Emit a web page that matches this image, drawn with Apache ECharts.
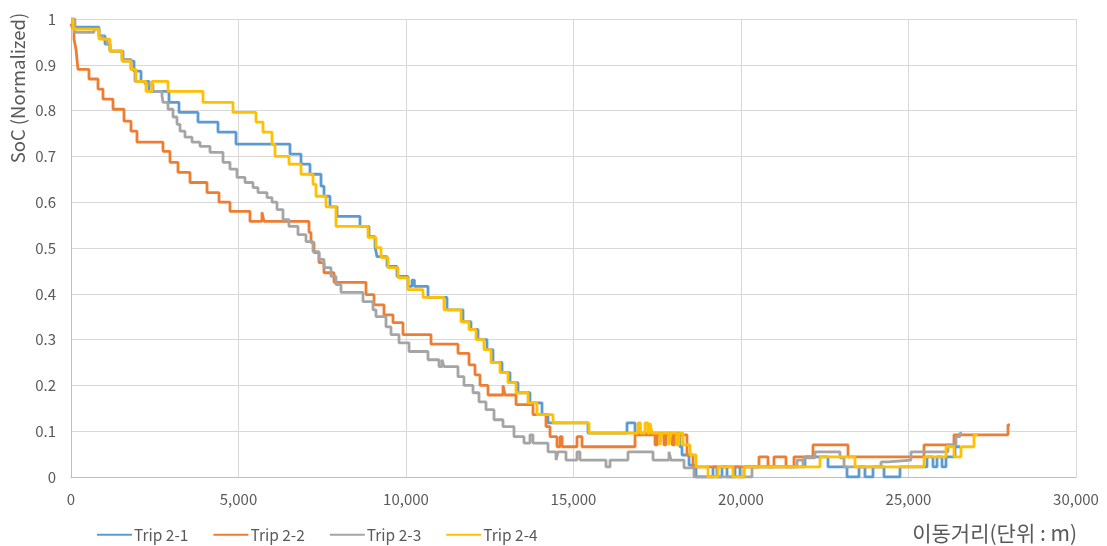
<!DOCTYPE html>
<html>
<head>
<meta charset="utf-8">
<script src="https://cdn.jsdelivr.net/npm/echarts@6/dist/echarts.min.js"></script>
<style>
html,body{margin:0;padding:0;background:#fff;}
#chart{width:1107px;height:546px;}
</style>
</head>
<body>
<div id="chart"></div>
<script>
// ---- Data (distance in m, SoC normalized); each point = where the level changes ----
const seriesNames = ['Trip 2-1', 'Trip 2-2', 'Trip 2-3', 'Trip 2-4'];
const yAxisTitle = 'SoC (Normalized)';
const xAxisTitle = '이동거리(단위 : m)';
const xMin = 0, xMax = 30000, xInterval = 5000;
const yMin = 0, yMax = 1, yInterval = 0.1;

const trip21 = [[0,1.0],[60,0.982],[836,0.963],[1015,0.945],[1164,0.93],[1552,0.908],[1881,0.886],[2090,0.864],[2328,0.842],[2925,0.818],[3224,0.796],[3791,0.775],[4388,0.753],[4925,0.727],[6537,0.705],[6866,0.683],[7134,0.661],[7463,0.635],[7552,0.613],[7731,0.59],[7940,0.569],[8627,0.547],[8895,0.525],[9075,0.503],[9134,0.481],[9433,0.46],[9731,0.438],[10060,0.416],[10179,0.43],[10250,0.416],[10657,0.392],[11224,0.365],[11701,0.339],[11940,0.322],[12149,0.3],[12418,0.278],[12597,0.25],[12866,0.228],[13104,0.206],[13343,0.184],[13701,0.162],[14060,0.136],[14239,0.118],[15433,0.096],[16597,0.118],[16836,0.096],[18179,0.066],[18239,0.048],[18448,0.026],[18657,0],[19164,0.022],[19284,0],[19433,0.022],[19582,0],[19821,0.022],[19970,0],[20090,0.022],[21910,0.044],[22597,0.022],[23164,0],[23522,0.022],[23701,0],[23940,0.022],[24269,0],[24746,0.022],[25552,0.044],[25731,0.022],[25851,0.044],[26000,0.022],[26119,0.044],[26388,0.066],[26537,0.066]];

const trip22 = [[0,0.99],[30,0.982],[90,0.956],[149,0.934],[179,0.912],[209,0.89],[537,0.869],[806,0.847],[955,0.825],[1254,0.803],[1582,0.777],[1791,0.755],[1970,0.731],[2746,0.711],[2955,0.687],[3194,0.665],[3552,0.643],[4060,0.621],[4418,0.6],[4746,0.58],[5343,0.558],[5701,0.578],[5760,0.558],[7104,0.534],[7164,0.512],[7254,0.49],[7403,0.468],[7552,0.446],[7851,0.425],[8806,0.398],[9045,0.376],[9343,0.354],[9612,0.337],[9910,0.311],[10746,0.29],[11552,0.27],[11881,0.245],[12060,0.223],[12209,0.2],[12448,0.179],[12896,0.2],[12955,0.179],[13284,0.158],[13791,0.136],[14179,0.11],[14299,0.088],[14507,0.066],[14600,0.088],[14660,0.066],[15104,0.088],[15254,0.066],[16836,0.092],[17433,0.07],[17500,0.092],[17700,0.07],[17760,0.092],[17950,0.07],[18010,0.092],[18388,0.048],[18567,0.022],[20537,0.044],[20806,0.022],[20985,0.044],[21343,0.022],[21582,0.044],[22149,0.07],[23194,0.044],[25463,0.07],[26358,0.092],[27970,0.114],[28030,0.114]];

const trip23 = [[0,1.0],[119,0.971],[687,0.978],[836,0.963],[955,0.956],[1075,0.945],[1164,0.93],[1522,0.912],[1791,0.89],[1910,0.864],[2209,0.858],[2448,0.842],[2716,0.832],[2746,0.818],[2896,0.803],[3045,0.786],[3164,0.77],[3254,0.755],[3403,0.742],[3612,0.731],[3851,0.722],[4149,0.709],[4537,0.687],[4746,0.672],[4955,0.654],[5194,0.643],[5433,0.632],[5582,0.621],[5851,0.61],[6000,0.6],[6149,0.584],[6328,0.562],[6507,0.547],[6776,0.529],[7015,0.514],[7224,0.492],[7403,0.475],[7552,0.457],[7761,0.438],[7910,0.42],[8060,0.403],[8716,0.383],[9015,0.365],[9104,0.35],[9403,0.328],[9552,0.311],[9791,0.293],[10090,0.274],[10657,0.256],[10985,0.241],[11075,0.256],[11134,0.241],[11552,0.219],[11731,0.2],[12000,0.184],[12179,0.164],[12388,0.147],[12627,0.125],[12896,0.11],[13224,0.088],[13522,0.074],[13701,0.092],[13790,0.074],[14239,0.055],[14478,0.037],[14537,0.055],[14776,0.037],[15104,0.055],[15194,0.037],[15970,0.022],[16090,0.037],[16627,0.055],[17373,0.037],[17851,0.055],[17910,0.037],[18299,0.02],[18597,0],[20328,0.022],[21672,0.037],[21851,0.022],[21881,0.042],[22209,0.055],[22955,0.042],[23075,0.022],[24179,0.033],[24388,0.037],[25074,0.055],[26179,0.07],[26418,0.088],[26537,0.096],[26597,0.096]];

const trip24 = [[0,1.0],[60,0.978],[836,0.956],[1164,0.93],[1522,0.908],[1791,0.89],[1940,0.864],[2239,0.842],[2418,0.864],[2896,0.842],[3940,0.818],[4836,0.796],[5522,0.775],[5731,0.753],[6000,0.726],[6090,0.7],[6507,0.683],[6866,0.661],[7224,0.639],[7313,0.613],[7612,0.59],[7910,0.547],[8866,0.523],[9104,0.501],[9254,0.479],[9463,0.457],[9761,0.435],[10060,0.409],[10507,0.392],[11134,0.365],[11642,0.339],[11881,0.322],[12090,0.3],[12328,0.278],[12537,0.25],[12806,0.228],[13045,0.206],[13284,0.184],[13642,0.162],[13910,0.136],[14388,0.118],[15463,0.096],[16925,0.118],[17000,0.096],[17134,0.118],[17224,0.096],[17284,0.118],[17343,0.096],[17582,0.07],[17640,0.096],[17851,0.07],[17910,0.096],[18090,0.07],[18150,0.096],[18269,0.07],[18478,0.048],[18657,0.022],[19015,0],[19313,0.022],[19761,0],[20090,0.022],[22358,0.044],[23403,0.022],[25463,0.044],[26119,0.066],[26358,0.044],[26567,0.066],[26955,0.092],[27075,0.092]];

const seriesData = [trip21, trip22, trip23, trip24];
const colors = ['#5B9BD5', '#ED7D31', '#A5A5A5', '#FFC000'];

const FONT = '"Noto Sans CJK KR", "Noto Sans", sans-serif';
const chart = echarts.init(document.getElementById('chart'), null, {renderer: 'canvas'});
chart.setOption({
  animation: false,
  backgroundColor: '#ffffff',
  color: colors,
  grid: {left: 71, right: 31, top: 19, bottom: 69, containLabel: false},
  legend: {
    data: seriesNames,
    left: 92, top: 522,
    itemWidth: 35, itemHeight: 12, itemGap: 25,
    icon: 'path://M0,5 L35,5 L35,7 L0,7 Z',
    textStyle: {color: '#595959', fontSize: 15.5, fontFamily: FONT, padding: [0,0,0,-3]}
  },
  xAxis: {
    type: 'value', min: xMin, max: xMax, interval: xInterval,
    axisLine: {show: true, lineStyle: {color: '#bfbfbf', width: 1}},
    axisTick: {show: false},
    splitLine: {show: true, lineStyle: {color: '#d9d9d9', width: 1}},
    axisLabel: {color: '#595959', fontSize: 15, fontFamily: FONT, margin: 15,
      formatter: v => v.toLocaleString('en-US')}
  },
  yAxis: {
    type: 'value', min: yMin, max: yMax, interval: yInterval,
    axisLine: {show: true, lineStyle: {color: '#bfbfbf', width: 1}},
    axisTick: {show: false},
    splitLine: {show: true, lineStyle: {color: '#d9d9d9', width: 1}},
    axisLabel: {color: '#595959', fontSize: 15, fontFamily: FONT, margin: 15,
      formatter: v => String(Math.round(v * 10) / 10)}
  },
  graphic: [
    {type: 'text', x: 18, y: 88, rotation: Math.PI / 2,
     style: {text: yAxisTitle, fill: '#595959', font: '18.5px ' + FONT, textAlign: 'center', textVerticalAlign: 'middle'}},
    {type: 'text', x: 1077, y: 533,
     style: {text: xAxisTitle, fill: '#595959', font: '21px ' + FONT, textAlign: 'right', textVerticalAlign: 'middle'}}
  ],
  series: seriesNames.map((name, i) => ({
    name, type: 'line', step: 'end', data: seriesData[i],
    symbol: 'none', showSymbol: false,
    lineStyle: {color: colors[i], width: 2.8},
    itemStyle: {color: colors[i]}
  }))
});
</script>
</body>
</html>
